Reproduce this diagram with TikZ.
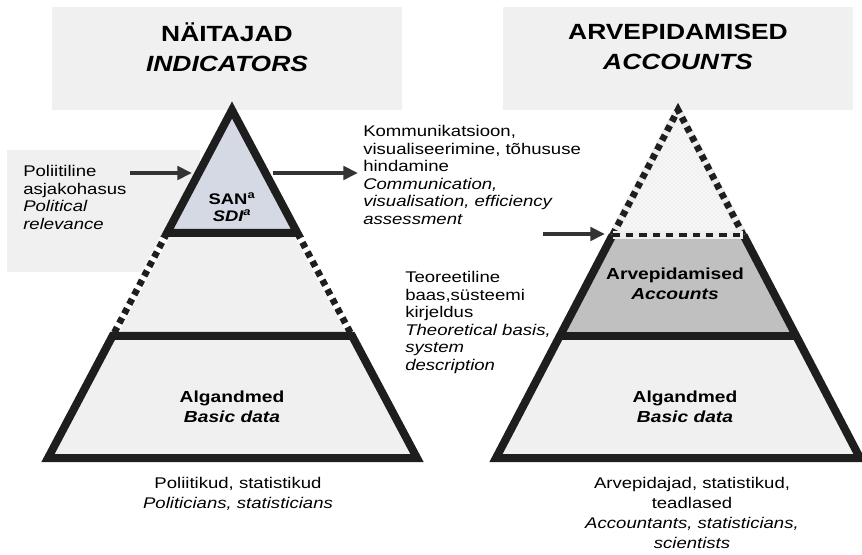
\documentclass[tikz,border=0pt]{standalone}
\usepackage{fontspec}
\setmainfont{Liberation Sans}[FakeStretch=1.2]
\usetikzlibrary{calc,arrows.meta,patterns}
\definecolor{boxgray}{HTML}{F0F0F0}
\definecolor{sanfill}{HTML}{D5D9E4}
\definecolor{accfill}{HTML}{C0C0C0}
\definecolor{linek}{HTML}{1E1E1E}
\definecolor{arrk}{HTML}{333333}
\definecolor{dashbg}{HTML}{EDEDED}
\tikzset{
  thickline/.style={draw=linek, line width=6pt, line join=miter},
  dashline/.style={draw=linek, line width=5pt, dash pattern=on 4.5pt off 3.5pt},
  dashbase/.style={draw=dashbg, line width=6pt},
  arr/.style={draw=arrk, line width=3pt, -{Triangle[length=11pt,width=10pt]}},
  bodytext/.style={font=\fontsize{11.6}{13.125}\selectfont, inner sep=0pt, align=left, anchor=north west},
  titletext/.style={font=\fontsize{16.5}{22.5}\selectfont\bfseries, inner sep=0pt, align=center},
  innertext/.style={font=\fontsize{12}{15}\selectfont\bfseries, inner sep=0pt, align=center},
  bottomtext/.style={font=\fontsize{11.6}{15}\selectfont, inner sep=0pt, align=center},
}
\begin{document}
\begin{tikzpicture}[x=0.75pt,y=-0.75pt]
\useasboundingbox (0,0) rectangle (862,555);
% backgrounds
\fill[boxgray] (52,7) rectangle (402,110);
\fill[boxgray] (503,7) rectangle (853,110);
\fill[boxgray] (7,150) rectangle (200,272);

% ---------- left pyramid ----------
\coordinate (LA) at (232,110);
\coordinate (LL) at (48,458);
\coordinate (LR) at (417,458);
\coordinate (L1l) at ($(LA)!0.3534!(LL)$);
\coordinate (L1r) at ($(LA)!0.3534!(LR)$);
\coordinate (L2l) at ($(LA)!0.6494!(LL)$);
\coordinate (L2r) at ($(LA)!0.6494!(LR)$);
\fill[boxgray] (LA)--(LL)--(LR)--cycle;
\fill[sanfill] (LA)--(L1l)--(L1r)--cycle;
\draw[draw=white, line width=6pt] (L1l)--(L2l) (L1r)--(L2r);
\draw[dashline] (L1l)--(L2l) (L1r)--(L2r);
\draw[thickline] (LA)--(L1l)--(L1r)--cycle;
\draw[thickline] (L2l)--(LL)--(LR)--(L2r)--cycle;

% ---------- right pyramid ----------
\coordinate (RA) at (678,110);
\coordinate (RL) at (496,458);
\coordinate (RR) at (860,458);
\coordinate (R1l) at ($(RA)!0.359!(RL)$);
\coordinate (R1r) at ($(RA)!0.359!(RR)$);
\coordinate (R2l) at ($(RA)!0.6494!(RL)$);
\coordinate (R2r) at ($(RA)!0.6494!(RR)$);
\fill[accfill] (R1l)--(R2l)--(R2r)--(R1r)--cycle;
\fill[boxgray] (R2l)--(RL)--(RR)--(R2r)--cycle;
\fill[gray!6] (RA)--(R1l)--(R1r)--cycle;
\fill[pattern=crosshatch dots, pattern color=gray!30] (RA)--(R1l)--(R1r)--cycle;
\draw[thickline] (R1l)--(RL)--(RR)--(R1r);
\draw[thickline] (R2l)--(R2r);
\draw[dashbase, line join=miter] (R1l)--(RA)--(R1r);
\draw[dashline] (R1l)--(RA)--(R1r);
\draw[dashbase] (R1l)--(R1r);
\draw[draw=linek, line width=3.5pt, dash pattern=on 5.5pt off 4.5pt] (R1l)--(R1r);

% ---------- titles ----------
\node[titletext] (tl) at (227,47) {NÄITAJAD\\\textit{INDICATORS}};
\node[titletext] (tr) at (678,47) {ARVEPIDAMISED\\\textit{ACCOUNTS}};

% ---------- inner labels ----------
\node[innertext, font=\fontsize{11.5}{12.5}\selectfont\bfseries] (san) at (232,207) {SAN\textsuperscript{a}\\\textit{SDI\textsuperscript{a}}};
\node[innertext] (algl) at (232,407) {Algandmed\\\textit{Basic data}};
\node[innertext] (acc) at (675,284) {Arvepidamised\\\textit{Accounts}};
\node[innertext] (algr) at (685,407) {Algandmed\\\textit{Basic data}};

% ---------- side texts ----------
\node[bodytext] (pol) at (23,165.5) {Poliitiline\\asjakohasus\\\textit{Political}\\\textit{relevance}};
\node[bodytext] (kom) at (363,125.5) {Kommunikatsioon,\\visualiseerimine, tõhususe\\hindamine\\\textit{Communication,}\\\textit{visualisation, efficiency}\\\textit{assessment}};
\node[bodytext] (teo) at (405,271.5) {Teoreetiline\\baas,süsteemi\\kirjeldus\\\textit{Theoretical basis,}\\\textit{system}\\\textit{description}};

% ---------- bottom texts ----------
\node[bottomtext] (botl) at (238,493.5) {Poliitikud, statistikud\\\textit{Politicians, statisticians}};
\node[bottomtext] (botr) at (692,513) {Arvepidajad, statistikud,\\teadlased\\\textit{Accountants, statisticians,}\\\textit{scientists}};

% ---------- arrows ----------
\coordinate (a1s) at (130,173);
\coordinate (a1e) at (192,173);
\coordinate (a2s) at (273,173);
\coordinate (a2e) at (358,173);
\coordinate (a3s) at (543,234);
\coordinate (a3e) at (605,234);
\draw[arr] (a1s) -- (a1e);
\draw[arr] (a2s) -- (a2e);
\draw[arr] (a3s) -- (a3e);
\end{tikzpicture}
\end{document}
